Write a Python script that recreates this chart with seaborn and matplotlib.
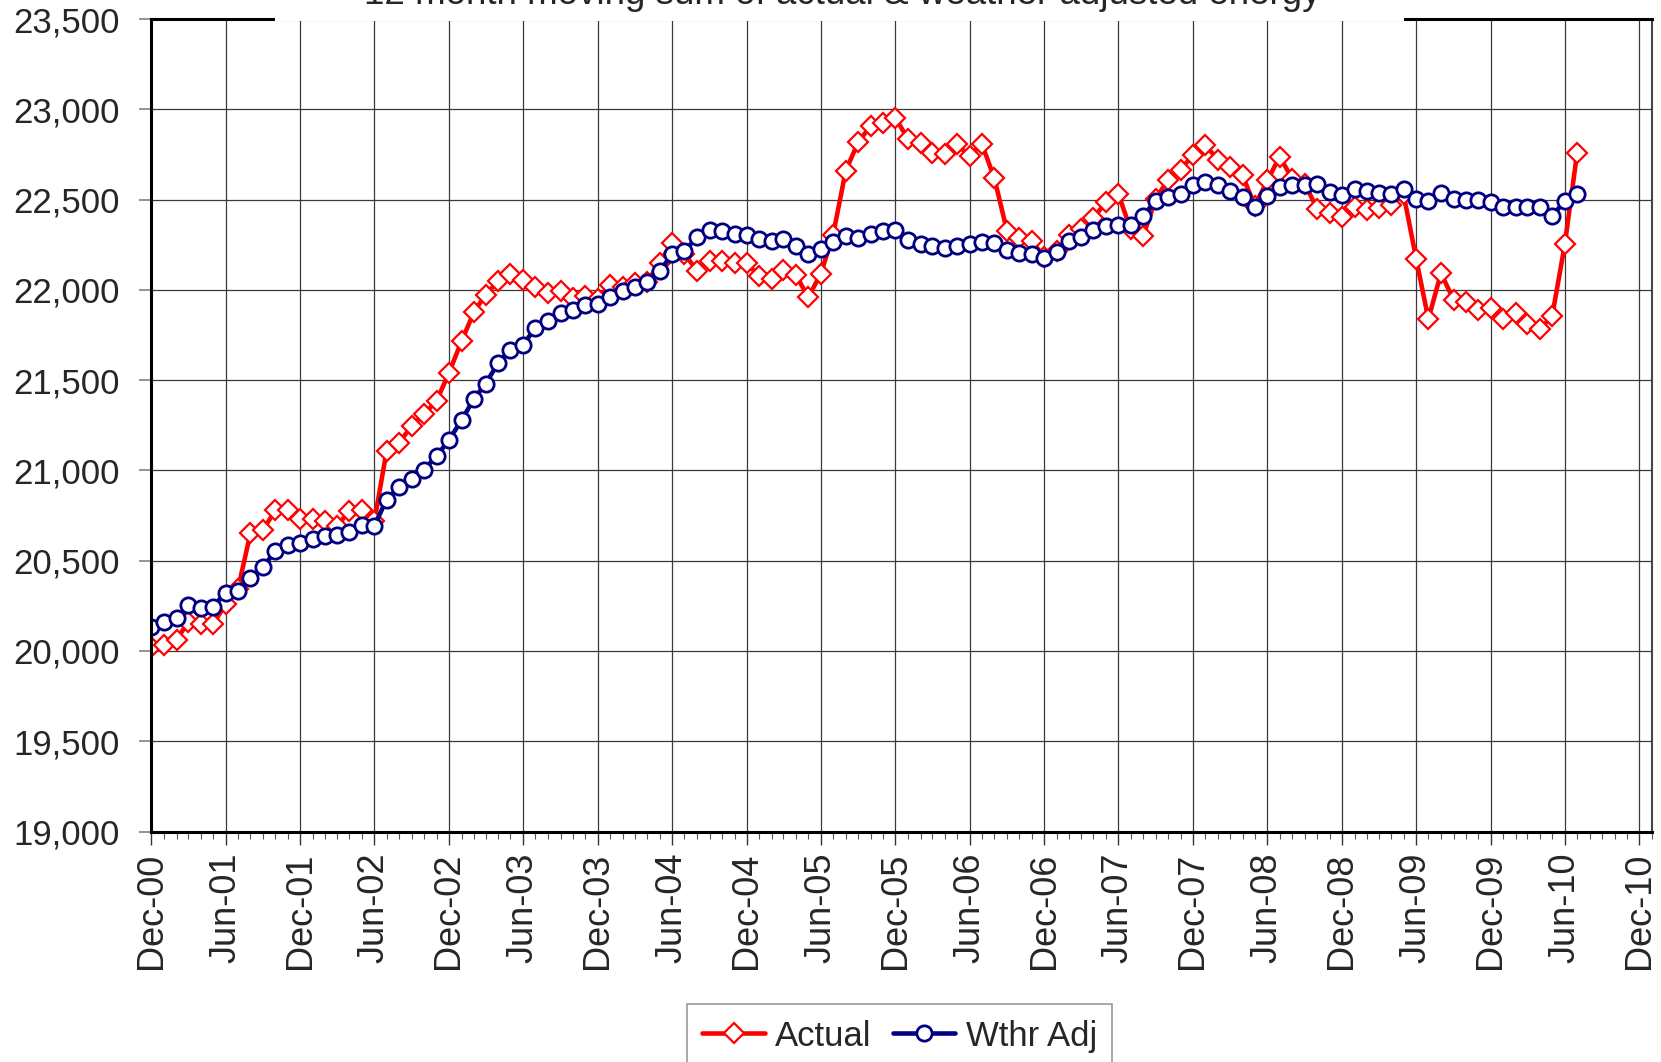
import numpy as np
import pandas as pd
import matplotlib
matplotlib.use("Agg")
import matplotlib.pyplot as plt
import matplotlib.dates as mdates
import matplotlib.ticker as mtick
from matplotlib.patches import Rectangle
import seaborn as sns

# ── data: 12-month moving sums, Dec-00 .. Jul-10 ─────────────────────────────
months = pd.date_range("2000-12-01", periods=116, freq="MS")

actual = [
    20022, 20032, 20063, 20161, 20152, 20148, 20260, 20341, 20653, 20672, 20779, 20779,
    20731, 20731, 20718, 20690, 20777, 20783, 20718, 21107, 21154, 21247, 21311, 21386,
    21540, 21715, 21880, 21972, 22050, 22088, 22055, 22018, 21982, 21994, 21954, 21967,
    21950, 22028, 22015, 22040, 22046, 22150, 22262, 22200, 22106, 22158, 22158, 22147,
    22148, 22074, 22060, 22110, 22082, 21958, 22090, 22305, 22660, 22820, 22907, 22922,
    22954, 22833, 22815, 22759, 22750, 22806, 22741, 22809, 22617, 22324, 22289, 22270,
    22181, 22215, 22304, 22336, 22397, 22485, 22532, 22336, 22298, 22504, 22610, 22666,
    22746, 22802, 22718, 22681, 22634, 22466, 22606, 22737, 22616, 22588, 22448, 22423,
    22405, 22461, 22442, 22453, 22472, 22532, 22173, 21838, 22093, 21944, 21935, 21888,
    21897, 21841, 21873, 21813, 21782, 21856, 22252, 22756,
]

wthr_adj = [
    20134, 20161, 20180, 20254, 20236, 20245, 20323, 20334, 20403, 20467, 20551, 20588,
    20597, 20620, 20638, 20644, 20657, 20699, 20694, 20838, 20909, 20953, 21005, 21080,
    21168, 21278, 21398, 21480, 21595, 21669, 21696, 21788, 21825, 21871, 21890, 21917,
    21920, 21963, 21992, 22014, 22046, 22103, 22197, 22214, 22293, 22332, 22327, 22307,
    22305, 22279, 22268, 22282, 22242, 22199, 22228, 22263, 22296, 22287, 22309, 22328,
    22333, 22278, 22254, 22241, 22231, 22241, 22254, 22265, 22259, 22222, 22205, 22200,
    22177, 22211, 22270, 22293, 22330, 22354, 22360, 22360, 22410, 22494, 22513, 22532,
    22578, 22597, 22578, 22550, 22513, 22461, 22522, 22569, 22578, 22580, 22588, 22541,
    22528, 22560, 22547, 22535, 22532, 22560, 22504, 22491, 22535, 22504, 22498, 22498,
    22485, 22461, 22461, 22461, 22461, 22410, 22491, 22532,
]

TITLE = "12 month moving sum of actual & weather adjusted energy"
RED = "#FF0000"
NAVY = "#000080"

sns.set_style("white")
plt.rcParams["font.family"] = ["Liberation Sans", "DejaVu Sans"]

fig = plt.figure(figsize=(16.61, 10.62), dpi=100)
ax = fig.add_axes([0.0912, 0.2170, 0.9034, 0.7651])

sns.lineplot(x=months, y=actual, ax=ax, color=RED, lw=3.3,
             marker="D", markersize=10.5, markerfacecolor="white",
             markeredgecolor=RED, markeredgewidth=1.6, label="Actual")
sns.lineplot(x=months, y=wthr_adj, ax=ax, color=NAVY, lw=3.3,
             marker="o", markersize=11, markerfacecolor="white",
             markeredgecolor=NAVY, markeredgewidth=2.0, label="Wthr Adj")

# axes
ax.set_ylim(19000, 23500)
ax.set_xlim(pd.Timestamp("2000-12-01"), pd.Timestamp("2011-01-01"))
ax.yaxis.set_major_locator(mtick.MultipleLocator(500))
ax.yaxis.set_major_formatter(mtick.StrMethodFormatter("{x:,.0f}"))
ax.xaxis.set_major_locator(mdates.MonthLocator(bymonth=(6, 12)))
ax.xaxis.set_minor_locator(mdates.MonthLocator())
ax.xaxis.set_major_formatter(mdates.DateFormatter("%b-%y"))
ax.set_xlabel("")
ax.set_ylabel("")

ax.grid(True, which="major", color="#3a3a3a", lw=0.9)
ax.tick_params(axis="y", labelsize=25, length=9, width=1.2, color="#808080",
               pad=14, direction="out", left=True)
ax.tick_params(axis="x", which="major", labelsize=26, length=9, width=1.0,
               color="#333333", rotation=90, pad=6, direction="out", bottom=True)
ax.tick_params(axis="x", which="minor", length=5, width=0.8, color="#555555",
               direction="out", bottom=True)

for side in ["left", "bottom", "top"]:
    ax.spines[side].set_color("black")
    ax.spines[side].set_linewidth(2.2)
ax.spines["right"].set_color("#444444")
ax.spines["right"].set_linewidth(1.5)

# title box sitting over the top of the plot frame, partly cut off
fig.add_artist(Rectangle((275 / 1661, 1 - 20.5 / 1062), (1404 - 275) / 1661, 20.5 / 1062,
                         transform=fig.transFigure, facecolor="white",
                         edgecolor="none", zorder=10))
fig.text(0.507, 1 - 3.5 / 1062, TITLE, ha="center", va="baseline", fontsize=26.5,
         zorder=11)

leg = ax.legend(loc="upper center", bbox_to_anchor=(0.5416, 0.0546),
                bbox_transform=fig.transFigure, ncol=2, fontsize=25,
                frameon=True, fancybox=False, edgecolor="#808080",
                handlelength=1.8, handletextpad=0.3, columnspacing=0.6,
                borderpad=0.45, borderaxespad=0)
leg.get_frame().set_linewidth(1.2)

fig.savefig("out.png", dpi=100)
